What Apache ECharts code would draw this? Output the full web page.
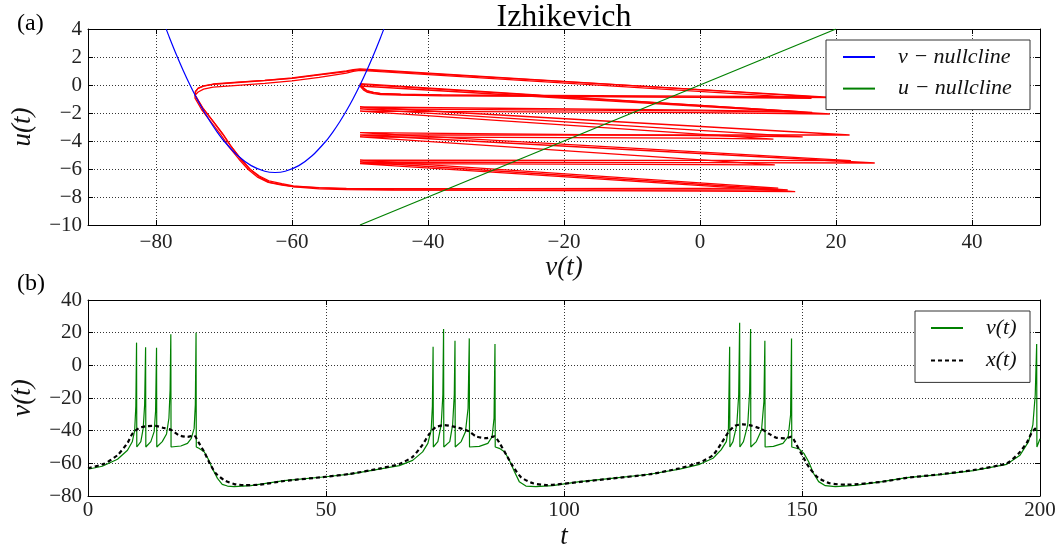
<!DOCTYPE html>
<html><head><meta charset="utf-8">
<script src="https://cdn.jsdelivr.net/npm/echarts@6/dist/echarts.min.js"></script>
<style>html,body{margin:0;padding:0;background:#fff}#c{width:1064px;height:552px}</style>
</head><body><div id="c"></div>
<script>
// ---------- data ----------
// (a) phase plane
const phaseVTicks = [-80, -60, -40, -20, 0, 20, 40];
const vNullcline = [[-78.5,3.99],[-78,3.36],[-77,2.16],[-76,1.04],[-75,0],[-74,-0.96],[-73,-1.84],[-72,-2.64],[-71,-3.36],[-70,-4],[-68,-5.04],[-66,-5.76],[-64,-6.16],[-62.5,-6.25],[-61,-6.16],[-59,-5.76],[-57,-5.04],[-55,-4],[-54,-3.36],[-53,-2.64],[-52,-1.84],[-51,-0.96],[-50,0],[-49,1.04],[-48,2.16],[-47,3.36],[-46.5,3.99]];
const uNullcline = [[-50,-10],[20,4]];
const trajBurst1 = [[-74.3,-0.7],[-73.2,-1.6],[-71.6,-2.6],[-70.2,-3.5],[-69.1,-4.3],[-67.6,-5.25],[-66.2,-6.0],[-64.8,-6.5],[-63.4,-6.85],[-61.5,-7.05],[-59.8,-7.2],[-56,-7.35],[-52,-7.43],[-45,-7.48],[-30,-7.52],[0,-7.58],[14,-7.62],
  [-50,-5.62],[-20,-5.65],[11,-5.7],
  [-50,-3.7],[0,-3.8],[10.8,-3.86],
  [-50,-1.86],[0,-1.98],[19.1,-2.07],
  [-50,-0.07],[-49.5,-0.35],[-49,-0.5],[-48,-0.62],[-47,-0.68],[-44,-0.73],[-38,-0.77],[0,-0.86],[20,-0.9],
  [-50,1.1],[-51,1.05],[-52,0.95],[-56,0.72],[-60,0.48],[-64,0.32],[-68,0.18],[-71.6,0.05],[-73,-0.08],[-73.8,-0.24],[-74.2,-0.48],[-74.3,-0.7]];
const trajBurst2 = [[-74.3,-0.9],[-73.3,-1.75],[-71.8,-2.7],[-70.4,-3.6],[-69.3,-4.4],[-67.8,-5.3],[-66.4,-6.05],[-65,-6.6],[-63.5,-6.95],[-61.5,-7.15],[-59.8,-7.25],[-56,-7.33],[-52,-7.38],[-45,-7.4],[-30,-7.4],[0,-7.38],[11.5,-7.36],
  [-50,-5.36],[0,-5.38],[22.2,-5.4],
  [-50,-3.4],[0,-3.62],[15.1,-3.7],
  [-50,-1.7],[0,-1.85],[16.5,-1.95],
  [-50,0.05],[-49.5,-0.25],[-49,-0.42],[-48,-0.55],[-47,-0.62],[-44,-0.68],[-38,-0.72],[0,-0.88],[16.4,-0.95],
  [-50,1.05],[-51,0.98],[-52,0.85],[-56,0.55],[-60,0.3],[-64,0.12],[-68,-0.02],[-71.6,-0.15],[-73,-0.3],[-73.8,-0.5],[-74.2,-0.7],[-74.3,-0.9]];
const trajBurst3 = [[-74.2,-0.75],[-73.1,-1.65],[-71.5,-2.65],[-70.1,-3.55],[-69,-4.35],[-67.5,-5.3],[-66.1,-6.05],[-64.7,-6.6],[-63.3,-6.95],[-61.4,-7.12],[-59.7,-7.28],[-56,-7.42],[-52,-7.48],[-45,-7.5],[-30,-7.5],[0,-7.5],[12.9,-7.5],
  [-50,-5.5],[0,-5.55],[25.7,-5.57],
  [-50,-3.57],[0,-3.57],[22,-3.57],
  [-50,-1.57],[0,-1.8],[14.5,-1.9],
  [-50,0.1],[-49.5,-0.2],[-49,-0.4],[-48,-0.52],[-47,-0.6],[-44,-0.66],[-38,-0.7],[0,-0.8],[17,-0.85],
  [-50,1.15],[-51,1.1],[-52,1.0],[-56,0.75],[-60,0.5],[-64,0.33],[-68,0.2],[-71.6,0.07],[-73,-0.06],[-73.8,-0.22],[-74.2,-0.45],[-74.2,-0.75]];
// (b) time series
const vTrace = [[0,-63.6],[3,-61.8],[6.2,-57.5],[8.3,-52],[9.3,-46.8],[9.8,-40],[10.05,-25],[10.2,13.9],[10.25,-50],
  [11.1,-46.7],[11.6,-38.6],[11.9,-24],[12.1,11],[12.15,-50],
  [13.2,-46.7],[13.9,-40.6],[14.2,-28],[14.4,10.8],[14.45,-50],
  [15.6,-46.7],[16.5,-42],[17.0,-32.4],[17.25,-15],[17.4,19],[17.45,-50],
  [19.5,-49.4],[20.9,-47.8],[21.7,-44.7],[22.3,-38.6],[22.55,-24],[22.7,20],[22.75,-50],
  [23.3,-50.8],[24.4,-52.9],[25.2,-57],[26.1,-63],[27.2,-69.2],[28.2,-72.9],[29.3,-73.9],[30.7,-74.3],[34.2,-73.7],[41.2,-70.6],[50,-68.2],[55,-66.6],[61.2,-63.5],[65.4,-61.4],[68.2,-58.2],[70.3,-53],[71.4,-47.8],[72.1,-39.6],[72.35,-25],[72.5,11.4],[72.55,-50],
  [73.5,-46.7],[74.2,-36.5],[74.55,-18],[74.7,22.2],[74.75,-50],
  [76,-46.7],[76.6,-36.5],[76.95,-18],[77.1,15.1],[77.15,-50],
  [78.4,-46.7],[79.3,-40.6],[79.85,-26.3],[80.1,16.5],[80.15,-50],
  [82.2,-49.6],[84,-47.8],[84.9,-43.7],[85.3,-32.5],[85.5,13.1],[85.55,-50],
  [86.4,-50.8],[87.5,-52.9],[88.5,-58],[89.6,-65.1],[90.6,-71.2],[92,-73.9],[94.1,-74.3],[97.6,-73.7],[103.3,-71.2],[110,-69.2],[118,-66.7],[124.3,-63.5],[128.5,-60.6],[131.3,-56.9],[133,-51.8],[134.1,-46.7],[134.55,-38.6],[134.8,11.4],[134.85,-50],
  [135.5,-46.7],[136.3,-36.5],[136.7,-18],[136.9,26.1],[136.95,-50],
  [137.7,-46.7],[138.6,-36.5],[139,-16],[139.2,22.2],[139.25,-50],
  [140.4,-46.7],[141.5,-39.6],[142,-22.3],[142.2,15.1],[142.25,-50],
  [144,-49.6],[146,-47.8],[147.1,-43.7],[147.6,-30.4],[147.8,16.5],[147.85,-50],
  [149.4,-51.2],[150.4,-53.9],[151.4,-59],[152.4,-66.1],[153.5,-71.2],[154.9,-73.7],[157,-74.3],[161.2,-73.5],[166.8,-71.2],[172,-68.8],[179,-66.9],[186,-64.5],[193,-60.6],[195.8,-55],[197.6,-46.7],[198.5,-36.5],[199,-18],[199.3,13],[199.35,-50],[200,-45]];
const xTrace = [[0,-63],[3.4,-60.3],[6.2,-55],[8.3,-47.5],[9.3,-42],[10.7,-38.4],[12.5,-37.2],[14.2,-37.1],[16,-38.4],[17.4,-39.4],[19.1,-42.8],[20.9,-43.8],[22.3,-43],[23.3,-47.5],[24.4,-52.9],[25.4,-59],[26.8,-66],[28.6,-70.3],[30.7,-72.7],[32.8,-73.3],[35.6,-73.2],[41.2,-70.8],[50,-68.2],[55,-66.5],[61.2,-63.2],[65.4,-60.4],[68.2,-56],[70.3,-48.5],[71.7,-42],[73.1,-37.8],[74.9,-36.6],[76.6,-37.4],[78.7,-39],[80.1,-40.5],[81.5,-43.5],[83.6,-44.6],[85.4,-43.5],[86.5,-47.8],[87.9,-54.9],[89.3,-62],[91,-68.6],[93.5,-72.2],[96.3,-73.3],[103.3,-71.4],[110,-69.3],[118,-66.7],[124.3,-63],[128.5,-59.5],[131.3,-55],[133,-48],[134.5,-41],[135.9,-37],[137.6,-36.1],[139.4,-36.9],[141.5,-39],[142.9,-41.6],[144.6,-44.3],[146.4,-44.7],[147.8,-43.7],[148.8,-48.4],[150.2,-55.9],[151.6,-63],[153.4,-68.8],[155.8,-72.2],[159.3,-73.1],[166.8,-71.3],[172,-68.9],[179,-66.7],[186,-64.1],[193,-60],[195.5,-54],[197.3,-47],[198.3,-41],[199.3,-38]];

// ---------- chart ----------
const SERIF = '"Liberation Serif", "DejaVu Serif", serif';
const minus = v => (v < 0 ? '\u2212' + Math.abs(v) : String(v));
const frame = { show: true, onZero: false, lineStyle: { color: '#000', width: 1 } };
const grid = { show: true, lineStyle: { color: '#000', width: 0.8, type: [1, 2] } };
const lbl = { color: '#222', fontFamily: SERIF, fontSize: 21, formatter: minus };
const nameStyle = { fontFamily: SERIF, fontStyle: 'italic', fontSize: 27, color: '#111' };

function mainAxis(extra) {
  return Object.assign({ type: 'value', axisLine: frame, nameLocation: 'middle', nameTextStyle: nameStyle }, extra);
}
function sideAxis(extra) {
  return Object.assign({ type: 'value', axisLine: frame, axisLabel: { show: false }, splitLine: { show: false } }, extra);
}
const tick = (more) => Object.assign({ inside: true, length: 5, lineStyle: { color: '#000' } }, more || {});
const clear = 'rgba(0,0,0,0)';
const legendBase = {
  orient: 'vertical', itemWidth: 32, itemHeight: 14,
  backgroundColor: '#fff', borderColor: '#333', borderWidth: 1, borderRadius: 0, selectedMode: false,
  itemStyle: { color: clear, borderColor: clear, borderWidth: 0 },
  lineStyle: { width: 2 }
};

const chart = echarts.init(document.getElementById('c'), null, { renderer: 'canvas' });
chart.setOption({
  animation: false,
  backgroundColor: '#fff',
  title: { text: 'Izhikevich', left: 564, top: 2, textAlign: 'center', padding: 0,
           textStyle: { fontFamily: SERIF, fontSize: 32, fontWeight: 'normal', color: '#000' } },
  graphic: [
    { type: 'text', left: 17, top: 12, style: { text: '(a)', font: '24px ' + SERIF, fill: '#000' } },
    { type: 'text', left: 17, top: 272, style: { text: '(b)', font: '24px ' + SERIF, fill: '#000' } }
  ],
  grid: [
    { left: 88, top: 29, width: 952, height: 196, outerBoundsMode: 'none' },
    { left: 88, top: 300, width: 952, height: 196, outerBoundsMode: 'none' }
  ],
  xAxis: [
    mainAxis({ gridIndex: 0, position: 'bottom', min: -90, max: 50,
      axisTick: tick({ customValues: phaseVTicks }),
      axisLabel: Object.assign({ customValues: phaseVTicks, margin: 7 }, lbl),
      splitLine: grid, name: 'v(t)', nameGap: 29 }),
    sideAxis({ gridIndex: 0, position: 'top', min: -90, max: 50, axisTick: tick({ customValues: phaseVTicks }) }),
    mainAxis({ gridIndex: 1, position: 'bottom', min: 0, max: 200, interval: 50,
      axisTick: tick(), axisLabel: Object.assign({ margin: 4 }, lbl),
      splitLine: grid, name: 't', nameGap: 27 }),
    sideAxis({ gridIndex: 1, position: 'top', min: 0, max: 200, interval: 50, axisTick: tick() })
  ],
  yAxis: [
    mainAxis({ gridIndex: 0, position: 'left', min: -10, max: 4, interval: 2,
      axisTick: tick(), axisLabel: Object.assign({ margin: 6 }, lbl),
      splitLine: grid, name: 'u(t)', nameGap: 52 }),
    sideAxis({ gridIndex: 0, position: 'right', min: -10, max: 4, interval: 2, axisTick: tick() }),
    mainAxis({ gridIndex: 1, position: 'left', min: -80, max: 40, interval: 20,
      axisTick: tick(), axisLabel: Object.assign({ margin: 6 }, lbl),
      splitLine: grid, name: 'v(t)', nameGap: 52 }),
    sideAxis({ gridIndex: 1, position: 'right', min: -80, max: 40, interval: 20, axisTick: tick() })
  ],
  legend: [
    Object.assign({}, legendBase, { data: ['v \u2212 nullcline', 'u \u2212 nullcline'], left: 826, top: 40,
      padding: [6, 10, 10, 16], itemGap: 9.6,
      textStyle: { fontFamily: SERIF, fontStyle: 'italic', fontSize: 22, color: '#111', lineHeight: 22, width: 122, padding: [0, 0, 0, 18] } }),
    Object.assign({}, legendBase, { data: ['v(t)', 'x(t)'], left: 915, top: 311,
      padding: [6, 11, 11, 15], itemGap: 10.4,
      textStyle: { fontFamily: SERIF, fontStyle: 'italic', fontSize: 22, color: '#111', lineHeight: 22, width: 33, padding: [0, 0, 0, 18] } })
  ],
  series: [
    { name: 'trajectory burst 1', type: 'line', xAxisIndex: 0, yAxisIndex: 0, data: trajBurst1, symbol: 'none', lineStyle: { color: '#ff0000', width: 1.3 } },
    { name: 'trajectory burst 2', type: 'line', xAxisIndex: 0, yAxisIndex: 0, data: trajBurst2, symbol: 'none', lineStyle: { color: '#ff0000', width: 1.3 } },
    { name: 'trajectory burst 3', type: 'line', xAxisIndex: 0, yAxisIndex: 0, data: trajBurst3, symbol: 'none', lineStyle: { color: '#ff0000', width: 1.3 } },
    { name: 'v \u2212 nullcline', type: 'line', xAxisIndex: 0, yAxisIndex: 0, data: vNullcline, symbol: 'none', smooth: 0.3, color: '#0000ff', lineStyle: { color: '#0000ff', width: 1.2 } },
    { name: 'u \u2212 nullcline', type: 'line', xAxisIndex: 0, yAxisIndex: 0, data: uNullcline, symbol: 'none', color: '#008000', lineStyle: { color: '#008000', width: 1.2 } },
    { name: 'v(t)', type: 'line', xAxisIndex: 2, yAxisIndex: 2, data: vTrace, symbol: 'none', color: '#008000', lineStyle: { color: '#008000', width: 1.2 } },
    { name: 'x(t)', type: 'line', xAxisIndex: 2, yAxisIndex: 2, data: xTrace, symbol: 'none', smooth: 0.2, color: '#000', lineStyle: { color: '#000', width: 2.2, type: [4, 3] } }
  ]
});
</script></body></html>
